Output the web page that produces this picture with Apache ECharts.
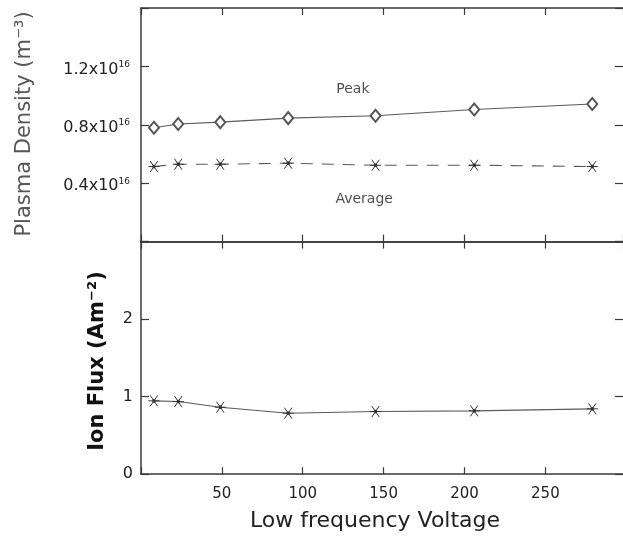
<!DOCTYPE html>
<html>
<head>
<meta charset="utf-8">
<script src="https://cdn.jsdelivr.net/npm/echarts@6/dist/echarts.min.js"></script>
<style>
html,body{margin:0;padding:0;background:#fff;}
#chart{width:623px;height:537px;}
</style>
</head>
<body>
<div id="chart"></div>
<script>
// ---- data ----
const voltage = [8, 23, 49, 91, 145, 206, 279];
const peakDensity_e16 = [0.78, 0.805, 0.818, 0.846, 0.862, 0.905, 0.942];
const avgDensity_e16 = [0.514, 0.530, 0.530, 0.537, 0.523, 0.523, 0.514];
const ionFlux = [0.946, 0.937, 0.864, 0.787, 0.808, 0.817, 0.843];
const xTicks = [50, 100, 150, 200, 250];
const densityTicks = [0.4, 0.8, 1.2];
const fluxTicks = [0, 1, 2];
const annotations = [
  { text: 'Peak', x: 131, y: 1.04 },
  { text: 'Average', x: 138, y: 0.29 }
];

const FONT = 'DejaVu Sans';
const axisColor = '#3a3a3a';
const lineColor = '#5a5a5a';
const asterisk = 'path://M0,5L10,5M1.6,1.6L8.4,8.4M1.6,8.4L8.4,1.6M4.2,4.2L5.8,4.2L5.8,5.8L4.2,5.8Z';

const chart = echarts.init(document.getElementById('chart'), null, { renderer: 'canvas' });

function xAx(gridIndex, position, showLabels) {
  return {
    type: 'value', gridIndex, position, min: 0, max: 298, interval: 50,
    axisLine: { show: true, onZero: false, lineStyle: { color: axisColor, width: 1.5 } },
    axisTick: { show: true, inside: true, length: 7, lineStyle: { color: axisColor, width: 1.2 } },
    splitLine: { show: false },
    axisLabel: {
      show: showLabels, margin: 12, color: '#222', fontFamily: FONT, fontSize: 15,
      showMaxLabel: false,
      formatter: v => xTicks.includes(v) ? String(v) : ''
    }
  };
}
function yAx(gridIndex, position, min, max, interval, labelFn, margin) {
  const isRight = position === 'right';
  return {
    type: 'value', gridIndex, position, min, max, interval,
    axisLine: { show: !isRight, onZero: false, lineStyle: { color: axisColor, width: 1.5 } },
    axisTick: { show: true, inside: true, length: 8, lineStyle: { color: axisColor, width: 1.2 } },
    splitLine: { show: false },
    axisLabel: labelFn ? {
      show: true, margin, color: '#222', fontFamily: FONT, fontSize: 16,
      formatter: labelFn,
      rich: {
        b: { fontFamily: FONT, fontSize: 16, color: '#222', padding: [6, 0, 0, 0] },
        s: { fontFamily: FONT, fontSize: 9, color: '#222', padding: [0, 0, 4, 0] },
        c: { fontFamily: FONT, fontSize: 16, color: '#222' }
      }
    } : { show: false }
  };
}

const densityLabel = v => {
  const hit = densityTicks.find(t => Math.abs(t - v) < 1e-6);
  return hit !== undefined ? '{b|' + hit.toFixed(1) + 'x10}{s|16}' : '';
};
const fluxLabel = v => fluxTicks.includes(Math.round(v * 1e6) / 1e6) ? '{c|' + v + '}' : '';

const option = {
  animation: false,
  backgroundColor: '#fff',
  grid: [
    { left: 141, top: 8, right: 0, height: 233.6, containLabel: false },
    { left: 141, top: 241.6, right: 0, height: 232.6, containLabel: false }
  ],
  xAxis: [
    xAx(0, 'bottom', false), xAx(0, 'top', false),
    xAx(1, 'bottom', true), xAx(1, 'top', false)
  ],
  yAxis: [
    yAx(0, 'left', 0, 1.6, 0.4, densityLabel, 11),
    yAx(0, 'right', 0, 1.6, 0.4, null),
    yAx(1, 'left', 0, 3, 1, fluxLabel, 8),
    yAx(1, 'right', 0, 3, 1, null)
  ],
  series: [
    {
      type: 'line', xAxisIndex: 0, yAxisIndex: 0,
      data: voltage.map((x, i) => [x, peakDensity_e16[i]]),
      symbol: 'emptyDiamond', symbolSize: [10, 12], showAllSymbol: true,
      lineStyle: { color: lineColor, width: 1.1 },
      itemStyle: { color: '#555', borderColor: '#555', borderWidth: 0.8 }
    },
    {
      type: 'line', xAxisIndex: 0, yAxisIndex: 0,
      data: voltage.map((x, i) => [x, avgDensity_e16[i]]),
      symbol: asterisk, symbolSize: 11, showAllSymbol: true,
      lineStyle: { color: lineColor, width: 1.1, type: [12, 9] },
      itemStyle: { color: '#222', borderColor: '#333', borderWidth: 1 }
    },
    {
      type: 'line', xAxisIndex: 2, yAxisIndex: 2,
      data: voltage.map((x, i) => [x, ionFlux[i]]),
      symbol: asterisk, symbolSize: 11, showAllSymbol: true,
      lineStyle: { color: lineColor, width: 1.1 },
      itemStyle: { color: '#222', borderColor: '#333', borderWidth: 1 }
    },
    {
      type: 'scatter', xAxisIndex: 0, yAxisIndex: 0,
      data: annotations.map(a => ({ value: [a.x, a.y], name: a.text })),
      symbolSize: 0, silent: true,
      label: { show: true, position: 'inside', formatter: p => p.name, color: '#222', fontFamily: FONT, fontSize: 14 }
    }
  ],
  graphic: [
    {
      type: 'text', x: 25, y: 124, rotation: Math.PI / 2,
      style: { text: 'Plasma Density (m⁻³)', fill: '#555', font: '21px "DejaVu Sans"', textAlign: 'center', textVerticalAlign: 'middle' }
    },
    {
      type: 'text', x: 98, y: 361, rotation: Math.PI / 2,
      style: { text: 'Ion Flux (Am⁻²)', fill: '#111', font: 'bold 21px "DejaVu Sans"', textAlign: 'center', textVerticalAlign: 'middle' }
    },
    {
      type: 'text', x: 375, y: 521,
      style: { text: 'Low frequency Voltage', fill: '#222', font: '22px "DejaVu Sans"', textAlign: 'center', textVerticalAlign: 'middle' }
    }
  ]
};
chart.setOption(option);
</script>
</body>
</html>
